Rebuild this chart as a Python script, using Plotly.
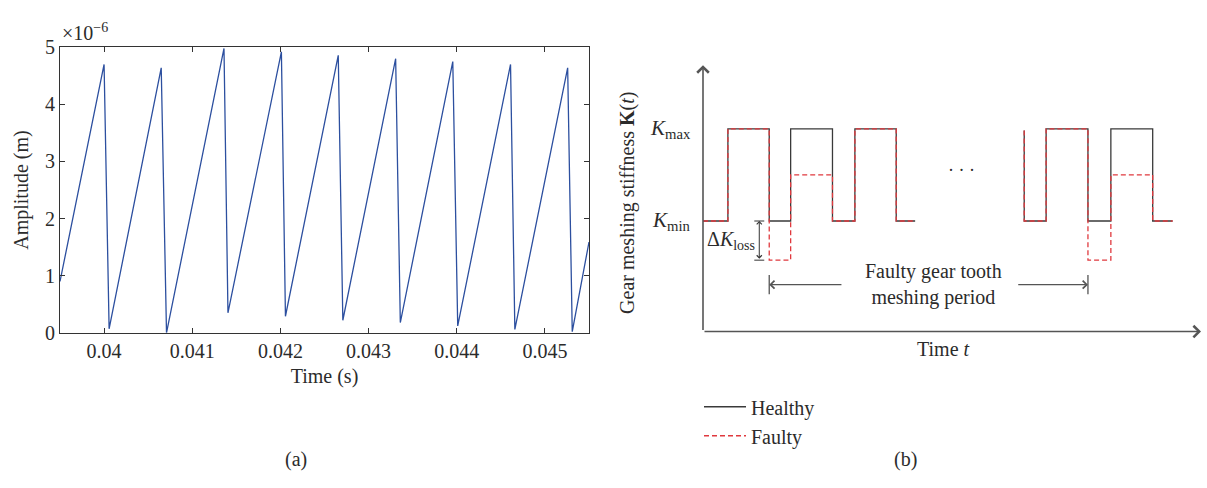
import plotly.graph_objects as go

W, H = 1207, 488
FONT = "Liberation Serif"
TXT = "#2b2b2b"

# ---------------- (a) sawtooth response ----------------
saw_time = [0.0395, 0.04000, 0.040057, 0.040648, 0.040708, 0.041360, 0.041405,
            0.042011, 0.042057, 0.042656, 0.042708, 0.043307, 0.043360, 0.043955,
            0.044011, 0.044610, 0.044659, 0.045258, 0.045310, 0.0455]
saw_amp_e6 = [0.90, 4.70, 0.07, 4.64, 0.00, 4.98, 0.35, 4.92, 0.29, 4.86, 0.22,
              4.80, 0.18, 4.75, 0.12, 4.70, 0.06, 4.64, 0.02, 1.59]
x_ticks_a = [0.040, 0.041, 0.042, 0.043, 0.044, 0.045]
x_tick_text_a = ["0.04", "0.041", "0.042", "0.043", "0.044", "0.045"]
y_ticks_a = [0, 1, 2, 3, 4, 5]

# ---------------- (b) stiffness schematic ----------------
K_MAX, K_MIN, K_RED, K_LOW = 7.61, 4.15, 5.88, 2.68
K_START2 = 7.55
healthy_t = [0, 0.50, 1.33, 1.76, 2.60, 3.05, 3.88, 4.26, None,
             6.45, 6.45, 6.89, 7.73, 8.19, 9.03, 9.43]
healthy_k = [K_MIN, K_MAX, K_MIN, K_MAX, K_MIN, K_MAX, K_MIN, K_MIN, None,
             K_START2, K_MIN, K_MAX, K_MIN, K_MAX, K_MIN, K_MIN]
faulty_t = [0, 0.50, 1.33, 1.76, 2.60, 3.05, 3.88, 4.26, None,
            6.45, 6.45, 6.89, 7.73, 8.19, 9.03, 9.43]
faulty_k = [K_MIN, K_MAX, K_LOW, K_RED, K_MIN, K_MAX, K_MIN, K_MIN, None,
            K_START2, K_MIN, K_MAX, K_LOW, K_RED, K_MIN, K_MIN]
fault_starts = [1.33, 7.73]       # start of the faulty tooth meshing, first & second revolution
dk_x = 1.13                       # x of the ΔK_loss dimension arrow
period_y = 1.76                   # height of the period arrow
period_text_x = 4.62
period_gap = [2.81, 6.30]         # where arrow shafts stop near the text
dots_pos = (5.19, 6.08)

fig = go.Figure()

fig.add_trace(go.Scatter(x=saw_time, y=saw_amp_e6, mode="lines",
                         line=dict(color="#2c4f9f", width=1.3),
                         showlegend=False, xaxis="x", yaxis="y"))

fig.add_trace(go.Scatter(x=healthy_t, y=healthy_k, mode="lines", name="Healthy",
                         line=dict(color="#3a3a3a", width=1.3, shape="hv"),
                         connectgaps=False, xaxis="x2", yaxis="y2"))
fig.add_trace(go.Scatter(x=faulty_t, y=faulty_k, mode="lines", name="Faulty",
                         line=dict(color="#e0393e", width=1.3, shape="hv", dash="5px,3px"),
                         connectgaps=False, xaxis="x2", yaxis="y2"))

def px_x(p):
    return p / W

def px_y(p):
    return 1 - p / H

axis_a = dict(showline=True, linecolor="#333", linewidth=1.2, mirror="ticks",
              ticks="inside", ticklen=5, tickcolor="#333", tickwidth=1.2,
              showgrid=False, zeroline=False,
              tickfont=dict(family=FONT, size=20, color=TXT))

fig.update_layout(
    width=W, height=H, margin=dict(l=0, r=0, t=0, b=0),
    paper_bgcolor="white", plot_bgcolor="white",
    font=dict(family=FONT, color=TXT, size=20),
    xaxis=dict(domain=[px_x(60), px_x(589)], range=[0.0395, 0.0455],
               tickvals=x_ticks_a, ticktext=x_tick_text_a,
               title=dict(text="Time (s)", font=dict(family=FONT, size=20, color=TXT), standoff=8),
               **axis_a),
    yaxis=dict(domain=[px_y(337), px_y(38)], range=[0, 5], tickvals=y_ticks_a,
               title=dict(text="Amplitude (m)", font=dict(family=FONT, size=20, color=TXT), standoff=10),
               **axis_a),
    xaxis2=dict(domain=[px_x(703), px_x(1201)], range=[0, 10], anchor="y2",
                visible=False),
    yaxis2=dict(domain=[px_y(335.7), px_y(56.7)], range=[0, 10], anchor="x2",
                visible=False),
    legend=dict(x=px_x(699), y=px_y(394), xanchor="left", yanchor="top",
                font=dict(family=FONT, size=20, color=TXT), bgcolor="rgba(0,0,0,0)",
                tracegroupgap=0, itemwidth=42),
)

ann = []
AX_C = "#555555"
# axes of the schematic with open arrow heads
ann.append(dict(x=10, y=0, ax=0, ay=0, xref="x2", yref="y2", axref="x2", ayref="y2",
                showarrow=True, arrowhead=4, arrowsize=1.4, arrowwidth=1.6,
                arrowcolor=AX_C, text=""))
ann.append(dict(x=0, y=10, ax=0, ay=0, xref="x2", yref="y2", axref="x2", ayref="y2",
                showarrow=True, arrowhead=4, arrowsize=1.4, arrowwidth=1.6,
                arrowcolor=AX_C, text=""))
# ΔK_loss dimension arrow
ann.append(dict(x=dk_x, y=K_MIN, ax=dk_x, ay=K_LOW, xref="x2", yref="y2",
                axref="x2", ayref="y2", showarrow=True, arrowhead=4, startarrowhead=4,
                arrowside="end+start", arrowsize=1.0, startarrowsize=1.0, arrowwidth=1.0,
                arrowcolor="#333", text=""))
# period arrows
ann.append(dict(x=fault_starts[0], y=period_y, ax=period_gap[0], ay=period_y,
                xref="x2", yref="y2", axref="x2", ayref="y2", showarrow=True,
                arrowhead=4, arrowsize=1.2, arrowwidth=1.3, arrowcolor=AX_C, text=""))
ann.append(dict(x=fault_starts[1], y=period_y, ax=period_gap[1], ay=period_y,
                xref="x2", yref="y2", axref="x2", ayref="y2", showarrow=True,
                arrowhead=4, arrowsize=1.2, arrowwidth=1.3, arrowcolor=AX_C, text=""))

ann.append(dict(x=0, y=K_MAX, xref="x2", yref="y2", xanchor="right", yanchor="middle",
                xshift=-10, text="<i>K</i><sub>max</sub>", showarrow=False, font=dict(size=21)))
ann.append(dict(x=0, y=K_MIN, xref="x2", yref="y2", xanchor="right", yanchor="middle",
                xshift=-10, text="<i>K</i><sub>min</sub>", showarrow=False, font=dict(size=21)))
ann.append(dict(x=dk_x, y=(K_MIN + K_LOW) / 2, xref="x2", yref="y2", xanchor="right",
                yanchor="middle", xshift=-2, text="Δ<i>K</i><sub>loss</sub>",
                showarrow=False, font=dict(size=20)))
ann.append(dict(x=period_text_x, y=period_y, xref="x2", yref="y2", xanchor="center",
                yanchor="middle", text="Faulty gear tooth<br>meshing period",
                showarrow=False, font=dict(size=20)))
ann.append(dict(x=dots_pos[0], y=dots_pos[1], xref="x2", yref="y2", xanchor="center",
                yanchor="middle", text="· · ·", showarrow=False, font=dict(size=18)))
ann.append(dict(x=px_x(628), y=px_y(201), xref="paper", yref="paper",
                xanchor="center", yanchor="middle",
                text="Gear meshing stiffness <b>K</b>(<i>t</i>)", textangle=-90,
                showarrow=False, font=dict(size=20)))
ann.append(dict(x=px_x(943), y=px_y(354), xref="paper", yref="paper",
                xanchor="center", yanchor="middle",
                text="Time <i>t</i>", showarrow=False, font=dict(size=20)))
ann.append(dict(x=px_x(60), y=px_y(22), xref="paper", yref="paper", xanchor="left",
                yanchor="middle", text="×10<sup>−6</sup>", showarrow=False,
                font=dict(size=20)))
ann.append(dict(x=px_x(296), y=px_y(470), xref="paper", yref="paper",
                xanchor="center", yanchor="middle",
                text="(a)", showarrow=False, font=dict(size=20)))
ann.append(dict(x=px_x(905), y=px_y(470), xref="paper", yref="paper",
                xanchor="center", yanchor="middle",
                text="(b)", showarrow=False, font=dict(size=20)))
fig.update_layout(annotations=ann)

shapes = []
# end bars of the period arrow
for fx in fault_starts:
    shapes.append(dict(type="line", xref="x2", yref="y2", x0=fx, x1=fx,
                       y0=period_y - 0.36, y1=period_y + 0.36,
                       line=dict(color=AX_C, width=1.3)))
# caps of the ΔK_loss dimension
for ky in (K_MIN, K_LOW):
    shapes.append(dict(type="line", xref="x2", yref="y2", x0=dk_x - 0.1, x1=dk_x + 0.1,
                       y0=ky, y1=ky, line=dict(color="#333", width=1.0)))
fig.update_layout(shapes=shapes)

fig.write_html("out.html")
